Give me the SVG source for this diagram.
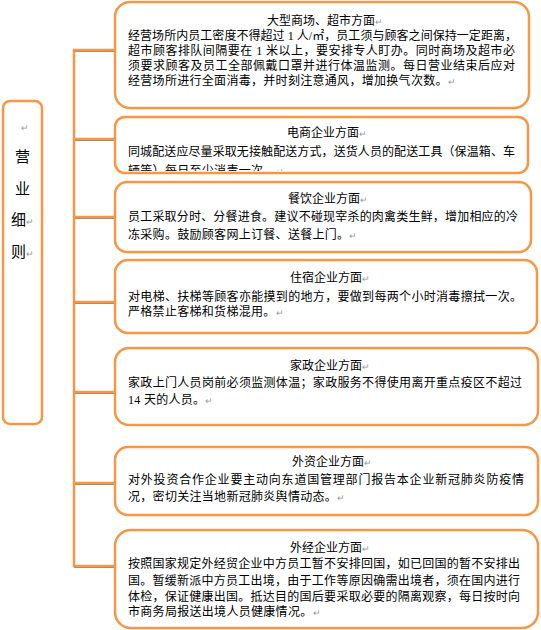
<svg xmlns="http://www.w3.org/2000/svg" width="541" height="630" viewBox="0 0 541 630">
<style>
.box{fill:#fff;stroke:#F79646;stroke-width:2.5}
.con{stroke:#F79646;stroke-width:2.5;fill:none}
.sh{stroke:#8a8a8a;stroke-width:1;fill:none}
.t{font-family:"Liberation Serif","Noto Sans CJK SC",serif;font-size:12px;fill:#000}
.nat{letter-spacing:0.3px}
.r{fill:#999;font-size:9px}
.big{font-family:"Liberation Serif","Noto Sans CJK SC",serif;font-size:15px;fill:#000}
</style>
<defs>
<clipPath id="c2"><rect x="115" y="117" width="413" height="54"/></clipPath>
</defs>
<rect width="541" height="630" fill="#fff"/>
<g id="connectors">
<line class="sh" x1="74" y1="51.5" x2="115" y2="51.5"/>
<line class="sh" x1="74" y1="140.5" x2="115" y2="140.5"/>
<line class="sh" x1="74" y1="218.5" x2="115" y2="218.5"/>
<line class="sh" x1="74" y1="303.5" x2="115" y2="303.5"/>
<line class="sh" x1="74" y1="393.5" x2="115" y2="393.5"/>
<line class="sh" x1="74" y1="484.5" x2="115" y2="484.5"/>
<line class="sh" x1="74" y1="567.5" x2="115" y2="567.5"/>
<path class="con" d="M115 50H74V566H115M74 139H115M74 217H115M74 302H115M74 392H115M74 483H115"/>
</g>
<g id="root">
<rect class="box" x="3" y="101" width="39" height="323" rx="7"/>
<text class="t r" x="21" y="131">↵</text>
<text class="big" x="22.5" y="162" text-anchor="middle">营</text>
<text class="big" x="22.5" y="194" text-anchor="middle">业</text>
<text class="big" x="22.5" y="225" text-anchor="middle">细<tspan class="r">↵</tspan></text>
<text class="big" x="22.5" y="257" text-anchor="middle">则<tspan class="r">↵</tspan></text>
</g>
<g id="n1">
<rect class="box" x="115" y="2" width="414" height="106" rx="15"/>
<text class="t" x="267" y="25">大型商场、超市方面<tspan class="r">↵</tspan></text>
<text class="t" x="128" y="40" textLength="389" lengthAdjust="spacing">经营场所内员工密度不得超过 1 人/㎡，员工须与顾客之间保持一定距离，</text>
<text class="t" x="128" y="55" textLength="387" lengthAdjust="spacing">超市顾客排队间隔要在 1 米以上，要安排专人盯办。同时商场及超市必</text>
<text class="t" x="128" y="70" textLength="387" lengthAdjust="spacing">须要求顾客及员工全部佩戴口罩并进行体温监测。每日营业结束后应对</text>
<text class="t nat" x="128" y="85">经营场所进行全面消毒，并时刻注意通风，增加换气次数。<tspan class="r">↵</tspan></text>
</g>
<g id="n2">
<rect class="box" x="115" y="117" width="413" height="56" rx="10"/>
<text class="t" x="287" y="137">电商企业方面<tspan class="r">↵</tspan></text>
<text class="t" x="128" y="156" textLength="387" lengthAdjust="spacing">同城配送应尽量采取无接触配送方式，送货人员的配送工具（保温箱、车</text>
<text class="t nat" x="128" y="175" clip-path="url(#c2)">辆等）每日至少消毒一次。<tspan class="r">↵</tspan></text>
</g>
<g id="n3">
<rect class="box" x="115" y="182" width="416" height="70" rx="12"/>
<text class="t" x="288" y="203">餐饮企业方面<tspan class="r">↵</tspan></text>
<text class="t" x="128" y="221" textLength="390" lengthAdjust="spacing">员工采取分时、分餐进食。建议不碰现宰杀的肉禽类生鲜，增加相应的冷</text>
<text class="t nat" x="128" y="239">冻采购。鼓励顾客网上订餐、送餐上门。<tspan class="r">↵</tspan></text>
</g>
<g id="n4">
<rect class="box" x="115" y="260" width="422" height="73" rx="13"/>
<text class="t" x="290" y="282">住宿企业方面<tspan class="r">↵</tspan></text>
<text class="t" x="128" y="301" textLength="394" lengthAdjust="spacing">对电梯、扶梯等顾客亦能摸到的地方，要做到每两个小时消毒擦拭一次。</text>
<text class="t nat" x="128" y="316">严格禁止客梯和货梯混用。<tspan class="r">↵</tspan></text>
</g>
<g id="n5">
<rect class="box" x="115" y="348" width="423" height="77" rx="14"/>
<text class="t" x="290" y="370">家政企业方面<tspan class="r">↵</tspan></text>
<text class="t" x="128" y="387" textLength="394" lengthAdjust="spacing">家政上门人员岗前必须监测体温；家政服务不得使用离开重点疫区不超过</text>
<text class="t nat" x="128" y="404">14 天的人员。<tspan class="r">↵</tspan></text>
</g>
<g id="n6">
<rect class="box" x="115" y="447" width="423" height="68" rx="13"/>
<text class="t" x="292" y="466">外资企业方面<tspan class="r">↵</tspan></text>
<text class="t" x="128" y="484" textLength="396" lengthAdjust="spacing">对外投资合作企业要主动向东道国管理部门报告本企业新冠肺炎防疫情</text>
<text class="t nat" x="128" y="501">况，密切关注当地新冠肺炎舆情动态。<tspan class="r">↵</tspan></text>
</g>
<g id="n7">
<rect class="box" x="115" y="530" width="423" height="98" rx="16"/>
<text class="t" x="290" y="552">外经企业方面<tspan class="r">↵</tspan></text>
<text class="t" x="128" y="568" textLength="392" lengthAdjust="spacing">按照国家规定外经贸企业中方员工暂不安排回国，如已回国的暂不安排出</text>
<text class="t" x="128" y="585" textLength="392" lengthAdjust="spacing">国。暂缓新派中方员工出境，由于工作等原因确需出境者，须在国内进行</text>
<text class="t" x="128" y="601" textLength="392" lengthAdjust="spacing">体检，保证健康出国。抵达目的国后要采取必要的隔离观察，每日按时向</text>
<text class="t nat" x="128" y="616">市商务局报送出境人员健康情况。<tspan class="r">↵</tspan></text>
</g>
</svg>
